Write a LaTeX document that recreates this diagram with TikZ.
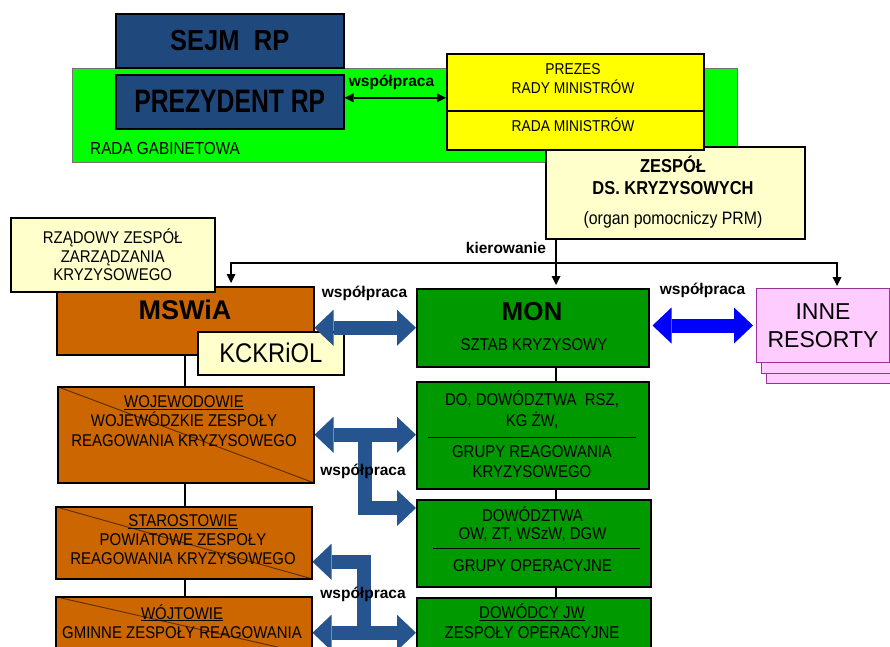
\documentclass[tikz,border=0pt]{standalone}
\usepackage{fontspec}
\setmainfont{Liberation Sans}
\newfontfamily\narrowsans[FakeStretch=0.88]{Liberation Sans}
\newfontfamily\tightsans[FakeStretch=0.76]{Liberation Sans}
\usetikzlibrary{arrows.meta,calc,positioning}

\definecolor{sejmblue}{HTML}{1F497D}
\definecolor{gabgreen}{HTML}{00FF00}
\definecolor{prmyellow}{HTML}{FFFF00}
\definecolor{paleyellow}{HTML}{FFFFCC}
\definecolor{mswiaorange}{HTML}{CC6600}
\definecolor{crossline}{HTML}{5A2D00}
\definecolor{mongreen}{HTML}{009900}
\definecolor{resfill}{HTML}{FFCCFF}
\definecolor{resline}{HTML}{993399}
\definecolor{arrowblue}{HTML}{25548F}
\definecolor{brightblue}{HTML}{0000FF}

\tikzset{
  SmallHead/.tip={Triangle[width=9pt,length=9pt,line width=0pt]},
  BigHead/.tip={Triangle[width=36pt,length=19pt,line width=0pt]},
}

\begin{document}
\begin{tikzpicture}[x=1pt,y=-1pt,
  box/.style={draw=black,line width=1.5pt,inner sep=0pt,anchor=north west},
  crossed/.style={path picture={\draw[line width=0.9pt,crossline] (path picture bounding box.north west) -- (path picture bounding box.south east);}},
  boxtext/.style={inner sep=0pt,align=center,font=\narrowsans\fontsize{17}{19.5}\selectfont},
  wsp/.style={inner sep=0pt,font=\bfseries\fontsize{15.5}{18}\selectfont},
  link/.style={line width=2pt},
  fatarrow/.style={line width=14pt,draw=arrowblue,BigHead-BigHead}]
\useasboundingbox (0,0) rectangle (890,646);

% rada gabinetowa
\node[box,draw=black!55,line width=0.8pt,fill=gabgreen,minimum width=665pt,minimum height=94pt] (gabinet) at (72,68) {};
\node[anchor=west,inner sep=0pt,font=\narrowsans\fontsize{17.4}{19}\selectfont] (gabinetlbl) at (90,149) {RADA GABINETOWA};
\node[box,fill=sejmblue,minimum width=228pt,minimum height=54pt,font=\narrowsans\bfseries\fontsize{29}{32}\selectfont] (sejm) at (115,13) {SEJM~ RP};
\node[box,fill=sejmblue,minimum width=228pt,minimum height=54pt,font=\tightsans\bfseries\fontsize{32.5}{34}\selectfont] (prezydent) at (115,74) {PREZYDENT RP};

% zespol ds. kryzysowych i rada ministrow
\node[box,fill=paleyellow,minimum width=259pt,minimum height=92pt] (zespol) at (545,146) {};
\node[boxtext,font=\narrowsans\bfseries\fontsize{18.7}{22}\selectfont] (zespoltitle) at (673,175.5) {ZESPÓŁ\\DS. KRYZYSOWYCH};
\node[boxtext,font=\narrowsans\fontsize{18}{20}\selectfont] (zespolnote) at (673,219.5) {(organ pomocniczy PRM)};
\node[box,fill=prmyellow,minimum width=257pt,minimum height=96pt] (prm) at (446,53) {};
\draw[line width=1.5pt] ($(prm.north west)+(0,58)$) -- ($(prm.north east)+(0,58)$);
\node[boxtext,font=\narrowsans\fontsize{15.7}{19}\selectfont] (prezes) at (573,78.5) {PREZES\\RADY MINISTRÓW};
\node[boxtext,font=\narrowsans\fontsize{15.7}{19}\selectfont] (radamin) at (573,125) {RADA MINISTRÓW};
\draw[link,SmallHead-SmallHead] ([yshift=4pt]prezydent.east) -- ([yshift=4pt]prezydent.east -| prm.west);
\node[wsp] (wsp1) at (391.5,82) {współpraca};

% resorty
\node[box,fill=mswiaorange,minimum width=257pt,minimum height=68pt] (mswia) at (56,286) {};
\node[inner sep=0pt,font=\bfseries\fontsize{27}{30}\selectfont] (mswialbl) at (185,310) {MSWiA};
\node[box,boxtext,fill=paleyellow,minimum width=204pt,minimum height=74pt,font=\narrowsans\fontsize{17}{18.5}\selectfont] (rzadowy) at (10,217) {RZĄDOWY ZESPÓŁ\\ZARZĄDZANIA\\KRYZYSOWEGO};
\node[box,fill=paleyellow,minimum width=146pt,minimum height=43pt,font=\narrowsans\fontsize{27}{30}\selectfont] (kckriol) at (197,331) {KCKRiOL};
\node[box,fill=mongreen,minimum width=232pt,minimum height=78pt] (mon) at (416,288) {};
\node[inner sep=0pt,font=\bfseries\fontsize{26}{28}\selectfont] (monlbl) at (532,312) {MON};
\node[boxtext] (sztab) at (534,345) {SZTAB KRYZYSOWY};
\node[box,draw=resline,line width=1pt,fill=resfill,minimum width=133pt,minimum height=74pt] (inne3) at (766,309) {};
\node[box,draw=resline,line width=1pt,fill=resfill,minimum width=133pt,minimum height=74pt] (inne2) at (761,299) {};
\node[box,draw=resline,line width=1pt,fill=resfill,minimum width=133pt,minimum height=74pt,align=center,font=\fontsize{23}{28.5}\selectfont] (inne) at (756,288) {INNE\\RESORTY};

% szczeble samorzadowe
\node[box,crossed,fill=mswiaorange,minimum width=256pt,minimum height=96pt] (woj) at (57,386) {};
\node[boxtext] (wojlbl) at (184,421) {\underline{WOJEWODOWIE}\\WOJEWÓDZKIE ZESPOŁY\\REAGOWANIA KRYZYSOWEGO};
\node[box,crossed,fill=mswiaorange,minimum width=256pt,minimum height=72pt] (star) at (55,506) {};
\node[boxtext,font=\narrowsans\fontsize{17}{19}\selectfont] (starlbl) at (183,540) {\underline{STAROSTOWIE}\\POWIATOWE ZESPOŁY\\REAGOWANIA KRYZYSOWEGO};
\node[box,crossed,fill=mswiaorange,minimum width=256pt,minimum height=58pt] (wojt) at (55,596) {};
\node[boxtext] (wojtlbl) at (182,621.5) {\underline{WÓJTOWIE}\\GMINNE ZESPOŁY REAGOWANIA};

% szczeble wojskowe
\node[box,fill=mongreen,minimum width=232pt,minimum height=107pt] (dorsz) at (416,381) {};
\draw[line width=1pt] ($(dorsz.north west)+(12,56)$) -- ($(dorsz.north east)+(-14,56)$);
\node[boxtext,font=\narrowsans\fontsize{17}{21.5}\selectfont] (dorszlbl) at (532,409.5) {DO, DOWÓDZTWA~ RSZ,\\KG ŻW,};
\node[boxtext,font=\narrowsans\fontsize{17}{20}\selectfont] (grk) at (532,461.5) {GRUPY REAGOWANIA\\KRYZYSOWEGO};
\node[box,fill=mongreen,minimum width=234pt,minimum height=87pt] (dowodztwa) at (416,499) {};
\draw[line width=1pt] ($(dowodztwa.north west)+(17,49)$) -- ($(dowodztwa.north east)+(-12,49)$);
\node[boxtext,font=\narrowsans\fontsize{17}{18.5}\selectfont] (dowlbl) at (532.5,524.2) {DOWÓDZTWA\\OW, ZT, WSzW, DGW};
\node[boxtext] (grop) at (532.5,566) {GRUPY OPERACYJNE};
\node[box,fill=mongreen,minimum width=234pt,minimum height=72pt] (dowodcy) at (416,597) {};
\node[boxtext,font=\narrowsans\fontsize{17}{20}\selectfont] (dowodcylbl) at (532,621.5) {\underline{DOWÓDCY JW}\\ZESPOŁY OPERACYJNE};

% linie podleglosci
\coordinate (mx) at (mswia.south);
\draw[link] (mx) -- (mx |- woj.north);
\draw[link] (mx |- woj.south) -- (mx |- star.north);
\draw[link] (mx |- star.south) -- (mx |- wojt.north);
\coordinate (kx) at ([xshift=11pt]zespol.south west);
\draw[link] (kx |- mon.south) -- (kx |- dorsz.north);
\draw[link] (kx |- dorsz.south) -- (kx |- dowodztwa.north);
\draw[link] (kx |- dowodztwa.south) -- (kx |- dowodcy.north);

% kierowanie
\coordinate (kjoin) at ([yshift=-25pt]kx);
\coordinate (kleft) at (231,263);
\coordinate (kright) at (837,263);
\draw[link] (kx) -- (kjoin);
\draw[link,-SmallHead] (kjoin) -- ([yshift=3pt]kjoin |- mon.north);
\draw[link,SmallHead-SmallHead] ([yshift=3pt]kleft |- mswia.north) -- (kleft) -- (kright) -- ([yshift=2pt]kright |- inne.north);
\node[wsp] (kierlbl) at (506,247.5) {kierowanie};

% wspolpraca
\draw[fatarrow] (mswia.east |- mon.west) -- (mon.west);
\draw[fatarrow,draw=brightblue] ($(mon.east |- inne.west)+(3,0)$) -- ($(inne.west)+(-3,0)$);
\coordinate (tjoin) at ($(woj.east)!0.5!(woj.east -| dorsz.west)$);
\draw[fatarrow] (woj.east) -- (woj.east -| dorsz.west);
\draw[fatarrow,-BigHead] (tjoin) |- ($(dowodztwa.north west)+(0,9)$);
\coordinate (wjoin) at ($(wojt.east)+(0,7)$);
\coordinate (bjoin) at ($(wjoin)!0.5!(wjoin -| dowodcy.west)$);
\draw[fatarrow] (wjoin) -- (wjoin -| dowodcy.west);
\draw[fatarrow,-BigHead] (bjoin) |- ($(star.east)+(0,19)$);
\node[wsp] (wsp2) at (364.5,293.5) {współpraca};
\node[wsp] (wsp3) at (702.5,290) {współpraca};
\node[wsp] (wsp4) at (363,471.5) {współpraca};
\node[wsp] (wsp5) at (363,594.5) {współpraca};
\end{tikzpicture}
\end{document}
